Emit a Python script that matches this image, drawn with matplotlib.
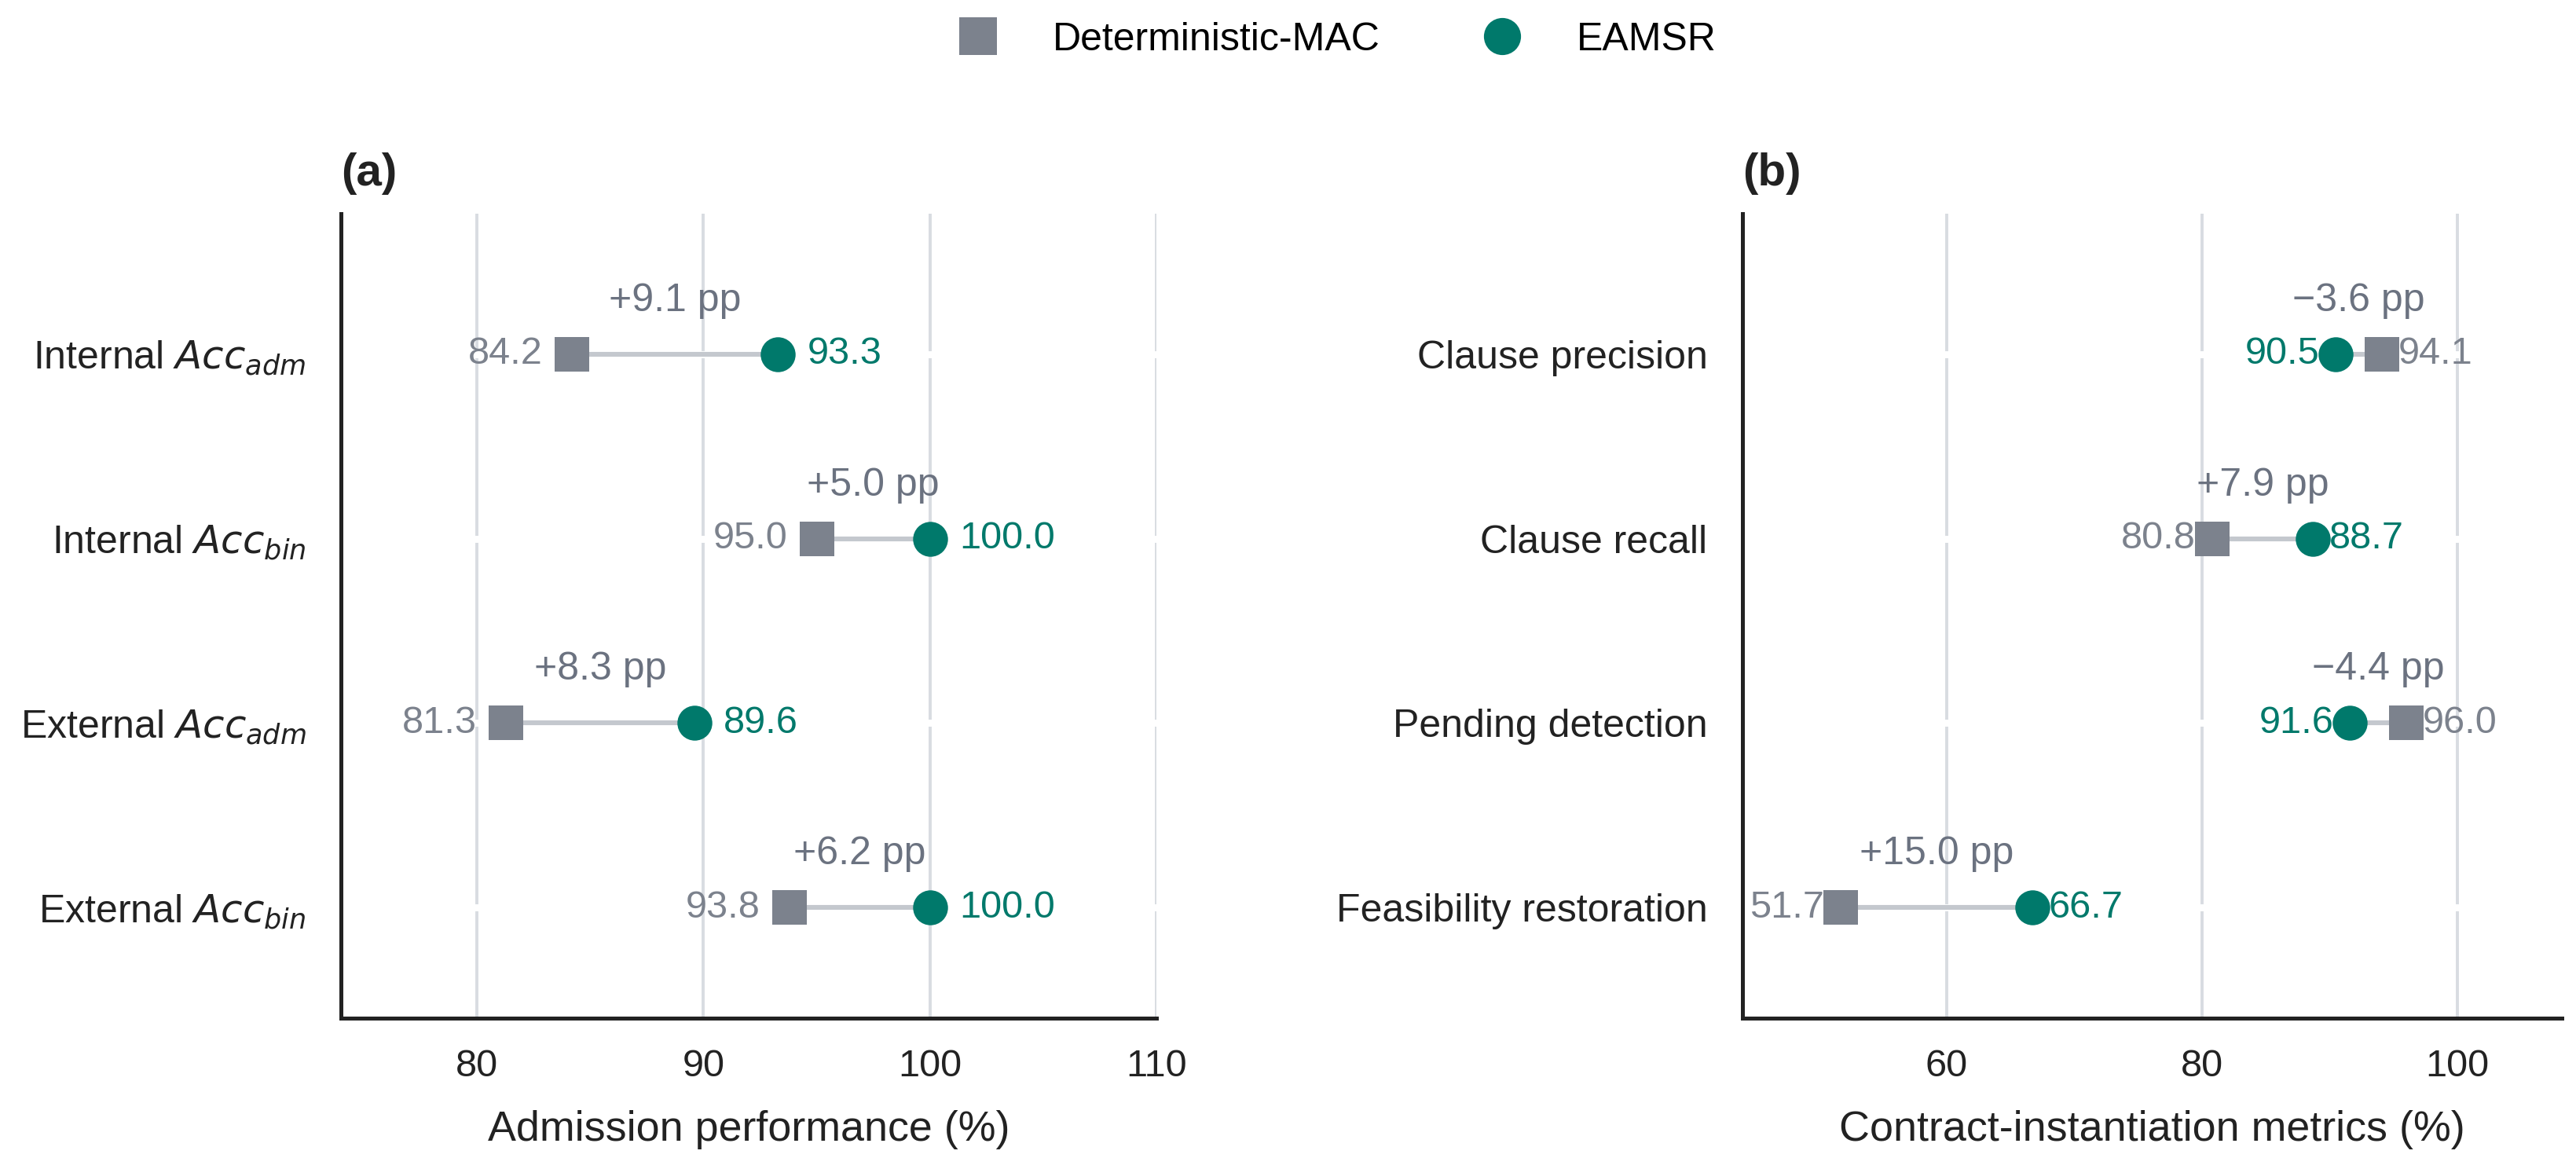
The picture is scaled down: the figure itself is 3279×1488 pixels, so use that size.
import numpy as np
import matplotlib
matplotlib.use("Agg")
import matplotlib.pyplot as plt
from matplotlib.lines import Line2D

plt.rcParams["font.family"] = ["Liberation Sans", "DejaVu Sans"]
plt.rcParams["mathtext.fontset"] = "dejavusans"

# Panel (a) data
adm_labels = ["Internal $Acc_{adm}$", "Internal $Acc_{bin}$",
              "External $Acc_{adm}$", "External $Acc_{bin}$"]
adm_det = [84.2, 95.0, 81.3, 93.8]
adm_eamsr = [93.3, 100.0, 89.6, 100.0]

# Panel (b) data
ci_labels = ["Clause precision", "Clause recall",
             "Pending detection", "Feasibility restoration"]
ci_det = [94.1, 80.8, 96.0, 51.7]
ci_eamsr = [90.5, 88.7, 91.6, 66.7]

c_det = "#7c828d"
c_eam = "#00796b"
c_link = "#c4c8ce"
c_grid = "#d8dce1"
c_note = "#6b7280"
c_dark = "#222222"

fig = plt.figure(figsize=(16.4, 7.44), dpi=200)
ax_a = fig.add_axes([0.1323, 0.129, 0.3165, 0.688])
ax_b = fig.add_axes([0.6762, 0.129, 0.318, 0.688])


def draw_panel(ax, labels, det, eam, xlim, xticks, xlabel, title):
    y = np.arange(len(labels))
    ax.set_axisbelow(True)
    ax.grid(axis="x", color=c_grid, lw=1.4)
    ax.grid(axis="y", visible=False)
    for yi, d, e in zip(y, det, eam):
        ax.axhline(yi, color="white", lw=3.2, zorder=1)
        ax.plot([d, e], [yi, yi], color=c_link, lw=2.2, zorder=2, solid_capstyle="butt")
    ax.scatter(det, y, marker="s", s=16 ** 2, color=c_det, zorder=3, linewidths=0)
    ax.scatter(eam, y, marker="o", s=16 ** 2, color=c_eam, zorder=3, linewidths=0)
    off = 1.3
    for yi, d, e in zip(y, det, eam):
        if d <= e:
            ax.text(d - off, yi, f"{d:.1f}", ha="right", va="center", color=c_det, fontsize=17.5, zorder=4)
            ax.text(e + off, yi, f"{e:.1f}", ha="left", va="center", color=c_eam, fontsize=17.5, zorder=4)
        else:
            ax.text(e - off, yi, f"{e:.1f}", ha="right", va="center", color=c_eam, fontsize=17.5, zorder=4)
            ax.text(d + off, yi, f"{d:.1f}", ha="left", va="center", color=c_det, fontsize=17.5, zorder=4)
        diff = e - d
        note = f"{diff:+.1f} pp".replace("-", "\u2212")
        ax.text((d + e) / 2, yi - 0.234, note, ha="center", va="baseline", color=c_note, fontsize=18, zorder=4)

    ax.set_yticks(y)
    ax.set_yticklabels(labels, fontsize=18, color=c_dark)
    ax.set_ylim(3.6, -0.76)
    ax.set_xlim(*xlim)
    ax.set_xticks(xticks)
    ax.tick_params(axis="x", length=0, pad=14, labelsize=17.5, labelcolor=c_dark)
    ax.tick_params(axis="y", length=0, pad=16)
    ax.set_xlabel(xlabel, fontsize=19.4, color=c_dark, labelpad=12)
    ax.set_title(title, loc="left", fontweight="bold", fontsize=21, pad=13, color=c_dark)
    for side in ["top", "right"]:
        ax.spines[side].set_visible(False)
    for side in ["left", "bottom"]:
        ax.spines[side].set_color(c_dark)
        ax.spines[side].set_linewidth(1.8)


draw_panel(ax_a, adm_labels, adm_det, adm_eamsr, (74, 110), [80, 90, 100, 110],
           "Admission performance (%)", "(a)")
draw_panel(ax_b, ci_labels, ci_det, ci_eamsr, (44, 108.2), [60, 80, 100],
           "Contract-instantiation metrics (%)", "(b)")

handles = [
    Line2D([], [], marker="s", linestyle="none", color=c_det, markersize=17, markeredgewidth=0),
    Line2D([], [], marker="o", linestyle="none", color=c_eam, markersize=17, markeredgewidth=0),
]
fig.legend(handles, ["Deterministic-MAC", "EAMSR"], loc="center", bbox_to_anchor=(0.519, 0.966),
           ncol=2, frameon=False, fontsize=18, handlelength=1, handletextpad=1.4, columnspacing=2.6)

fig.savefig("out.png", dpi=200, facecolor="white")
